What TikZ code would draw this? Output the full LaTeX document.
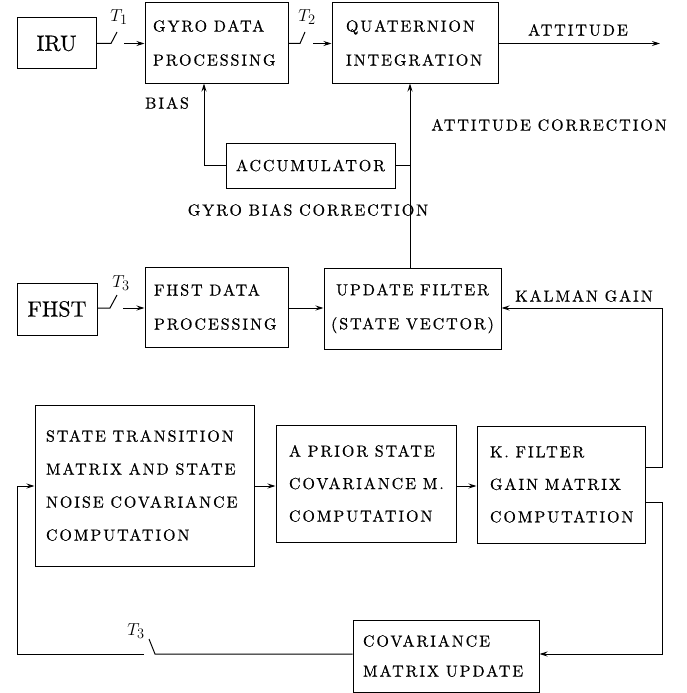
\documentclass[tikz,border=0pt]{standalone}
\usepackage{fontspec}
\newfontfamily\lblfont[LetterSpace=12,FakeBold=0.6]{lmroman10-regular.otf}
\newfontfamily\bigfont[FakeBold=0.4]{lmroman10-regular.otf}
\newcommand\wsp{\nobreak\hspace{0.42em}\nobreak}
\usetikzlibrary{arrows.meta,calc}
\begin{document}
\begin{tikzpicture}[x=1pt,y=-1pt,
  line width=1pt,
  arr/.style={-{Stealth[length=8pt,width=5pt]}},
  blk/.style={draw, inner ysep=0pt, font=\lblfont\fontsize{16}{34}\selectfont},
  bigblk/.style={draw, inner sep=0pt, font=\bigfont\fontsize{22}{24}\selectfont},
  lbl/.style={inner sep=0pt, font=\lblfont\fontsize{16}{18}\selectfont},
  sw/.style={inner sep=0pt, font=\fontsize{19}{21}\selectfont}]
\useasboundingbox (0,0) rectangle (686,693);

% boxes
\node[bigblk, minimum width=79pt, minimum height=51pt] (iru) at (56.5,43.5) {IRU};
\node[blk, align=left, text width=127pt, inner xsep=8pt, minimum height=80pt] (gyro) at (216.5,43) {GYRO\wsp DATA\\PROCESSING};
\node[blk, align=left, text width=138pt, inner xsep=14pt, minimum height=80pt] (quat) at (415,43) {QUATERNION\\INTEGRATION};
\node[blk, minimum width=169pt, minimum height=45pt] (acc) at (310.5,165.5) {ACCUMULATOR};
\node[bigblk, minimum width=80pt, minimum height=52pt] (fhst) at (57,309) {FHST};
\node[blk, align=left, text width=125pt, inner xsep=9pt, minimum height=80pt] (fdp) at (216.5,307) {FHST\wsp DATA\\PROCESSING};
\node[blk, align=center, text width=175pt, inner xsep=1pt, minimum height=81pt] (upd) at (412.5,308.5) {UPDATE\wsp FILTER\\(STATE\wsp VECTOR)};
\node[blk, align=left, text width=197pt, inner xsep=11pt, minimum height=161pt, font=\lblfont\fontsize{16}{33}\selectfont] (stm) at (144.5,485.5) {STATE\wsp TRANSITION\\MATRIX\wsp AND\wsp STATE\\NOISE\wsp COVARIANCE\\COMPUTATION};
\node[blk, align=left, text width=154pt, inner xsep=13pt, minimum height=117pt, font=\lblfont\fontsize{16}{32.5}\selectfont] (apr) at (366,483.5) {A\wsp PRIOR\wsp STATE\\COVARIANCE\wsp M.\\COMPUTATION};
\node[blk, align=left, text width=142pt, inner xsep=13pt, minimum height=117pt, font=\lblfont\fontsize{16}{32.5}\selectfont] (kf) at (561,484.5) {K.\wsp FILTER\\GAIN\wsp MATRIX\\COMPUTATION};
\node[blk, align=left, text width=166pt, inner xsep=10pt, minimum height=72pt, font=\lblfont\fontsize{16}{30}\selectfont] (cov) at (446,656) {COVARIANCE\\MATRIX\wsp UPDATE};

% helper coordinates
\coordinate (s1) at (111,43.5); \coordinate (s1t) at (117,32); \coordinate (s1b) at (124,43.5);
\coordinate (s2) at (300,43.5); \coordinate (s2t) at (305,32); \coordinate (s2b) at (313,43.5);
\coordinate (att) at (660,43.5);
\coordinate (vx) at (410,0);
\coordinate (bx) at (204,0);
\coordinate (s3) at (110,308); \coordinate (s3t) at (117,295); \coordinate (s3b) at (123,308);
\coordinate (kx) at (662,0);
\coordinate (kgy) at (0,467);
\coordinate (ry) at (0,486);
\coordinate (cy) at (0,502);
\coordinate (by) at (0,654);
\coordinate (s4) at (155,654); \coordinate (s4t) at (149,639); \coordinate (s4b) at (144,654);
\coordinate (lx) at (17,0);

% top row
\draw (iru.east |- s1) -- (s1) -- (s1t);
\draw[arr] (s1b) -- (gyro.west |- s1b);
\node[sw] (t1) at (119,17) {$T_1$};
\draw (gyro.east |- s2) -- (s2) -- (s2t);
\draw[arr] (s2b) -- (quat.west |- s2b);
\node[sw] (t2) at (307,17) {$T_2$};
\draw[arr] (quat.east |- att) -- (att);
\node[lbl] (attl) at (578,30) {ATTITUDE};

% corrections
\draw[arr] (upd.north -| vx) -- (quat.south -| vx);
\draw (acc.east) -- (acc.east -| vx);
\draw[arr] (acc.west) -| (gyro.south -| bx);
\node[lbl] (bias) at (167,103) {BIAS};
\node[lbl] (attc) at (549,125) {ATTITUDE\wsp CORRECTION};
\node[lbl] (gbc) at (308,210) {GYRO\wsp BIAS\wsp CORRECTION};

% FHST row
\draw (fhst.east |- s3) -- (s3) -- (s3t);
\draw[arr] (s3b) -- (fdp.west |- s3b);
\node[sw] (t3a) at (121,283) {$T_3$};
\draw[arr] (fdp.east |- s3) -- (upd.west |- s3);
\draw[arr] (kf.east |- kgy) -- (kx |- kgy) -- (kx |- s3) -- (upd.east |- s3);
\node[lbl] (kg) at (584,296) {KALMAN\wsp GAIN};

% bottom loop
\draw[arr] (stm.east |- ry) -- (apr.west |- ry);
\draw[arr] (apr.east |- ry) -- (kf.west |- ry);
\draw[arr] (kf.east |- cy) -- (kx |- cy) -- (kx |- by) -- (cov.east |- by);
\draw (cov.west |- by) -- (s4) -- (s4t);
\draw[arr] (s4b) -- (lx |- by) -- (lx |- ry) -- (stm.west |- ry);
\node[sw] (t3b) at (136,631) {$T_3$};
\end{tikzpicture}
\end{document}
